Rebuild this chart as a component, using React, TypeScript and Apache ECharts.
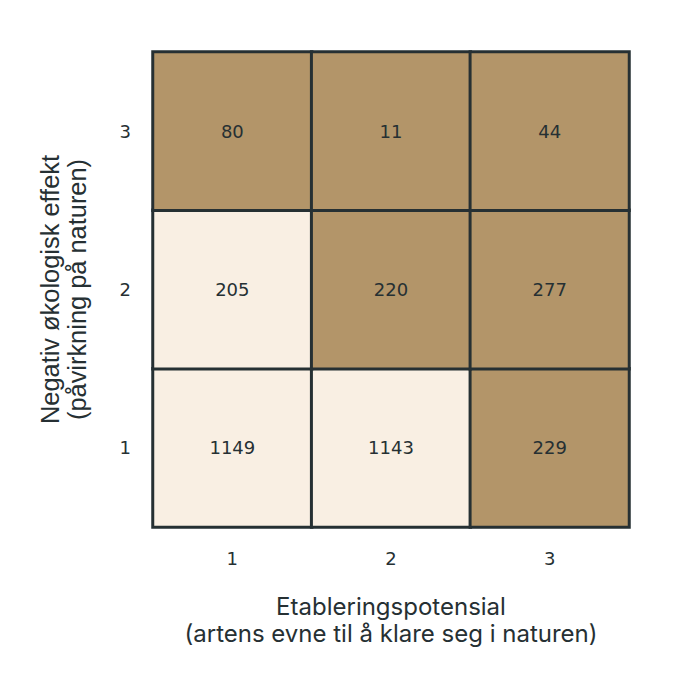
import React, { useEffect, useRef } from "react";
import * as echarts from "echarts";

const xCategories = ["1", "2", "3"];
const yCategories = ["1", "2", "3"];
// [xIndex, yIndex, value]
const cellValues: number[][] = [
  [0, 0, 1149],
  [1, 0, 1143],
  [2, 0, 229],
  [0, 1, 205],
  [1, 1, 220],
  [2, 1, 277],
  [0, 2, 80],
  [1, 2, 11],
  [2, 2, 44],
];
// category of each cell: 0 = light, 1 = brown
const cellGroups: number[] = [0, 0, 1, 0, 1, 1, 1, 1, 1];
const xTitle = "Etableringspotensial\n(artens evne til å klare seg i naturen)";
const yTitle = "Negativ økologisk effekt\n(påvirkning på naturen)";

const LIGHT = "#f9efe3";
const BROWN = "#b39569";
const DARK = "#263033";
const FONT = "Inter, 'Noto Sans', sans-serif";
const DIGITS = "'DejaVu Sans', sans-serif";

export default function App() {
  const ref = useRef<HTMLDivElement>(null);
  useEffect(() => {
    if (!ref.current) return;
    const chart = echarts.init(ref.current, null, { renderer: "svg" });
    chart.setOption({
      animation: false,
      backgroundColor: "#ffffff",
      grid: { left: 145, top: 44, right: 51, bottom: 152 },
      visualMap: {
        type: "piecewise",
        show: false,
        dimension: 3,
        pieces: [
          { value: 0, color: LIGHT },
          { value: 1, color: BROWN },
        ],
      },
      xAxis: {
        type: "category",
        data: xCategories,
        axisLine: { show: false },
        axisTick: { show: false },
        splitArea: { show: false },
        axisLabel: { color: DARK, fontSize: 18, margin: 22, fontFamily: DIGITS },
        name: xTitle,
        nameLocation: "middle",
        nameGap: 66,
        nameTextStyle: { color: DARK, fontSize: 24, lineHeight: 27, fontFamily: FONT },
      },
      yAxis: {
        type: "category",
        data: yCategories,
        axisLine: { show: false },
        axisTick: { show: false },
        splitArea: { show: false },
        axisLabel: { color: DARK, fontSize: 18, margin: 22, fontFamily: DIGITS },
        name: yTitle,
        nameLocation: "middle",
        nameGap: 63,
        nameTextStyle: { color: DARK, fontSize: 25.4, lineHeight: 26.5, fontFamily: "'Liberation Sans', Arial, sans-serif" },
      },
      series: [
        {
          type: "heatmap",
          data: cellValues.map((d, i) => [d[0], d[1], d[2], cellGroups[i]]),
          itemStyle: { borderColor: DARK, borderWidth: 3 },
          label: {
            show: true,
            color: DARK,
            fontSize: 18,
            fontFamily: DIGITS,
            formatter: (p: any) => String(p.value[2]),
          },
          emphasis: { disabled: true },
        },
      ],
    });
    return () => chart.dispose();
  }, []);
  return <div ref={ref} style={{ width: 672, height: 671 }} />;
}
